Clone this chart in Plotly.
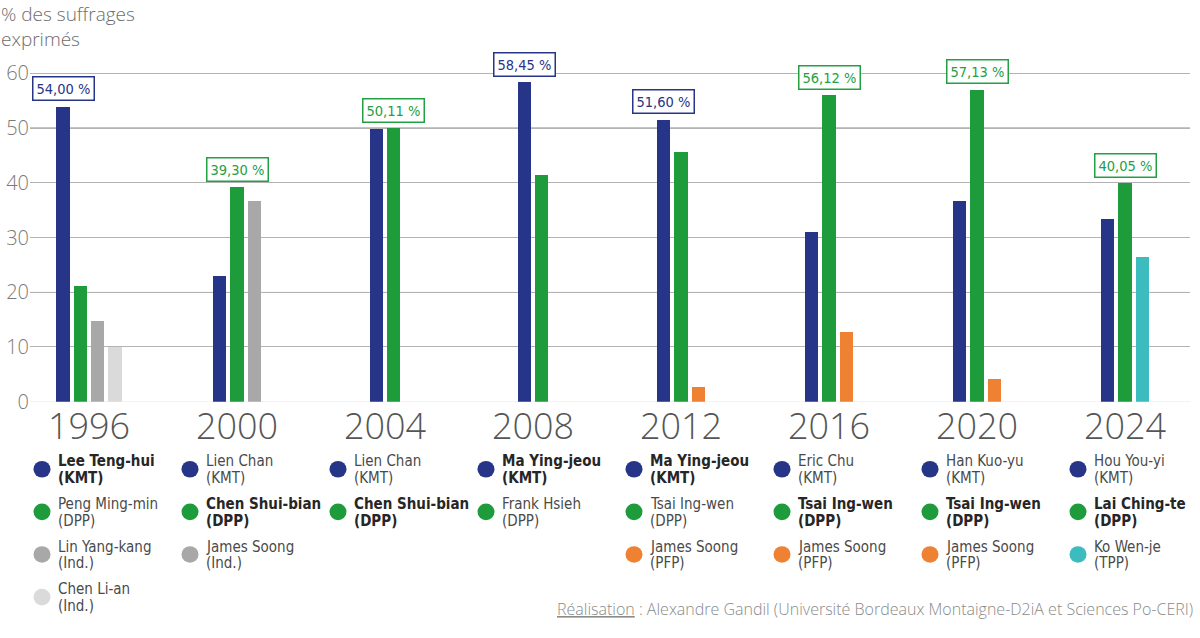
import plotly.graph_objects as go

# ---------------- data ----------------
years = ["1996", "2000", "2004", "2008", "2012", "2016", "2020", "2024"]

kmt_candidates = ["Lee Teng-hui", "Lien Chan", "Lien Chan", "Ma Ying-jeou",
                  "Ma Ying-jeou", "Eric Chu", "Han Kuo-yu", "Hou You-yi"]
kmt_share = [54.00, 23.10, 49.89, 58.45, 51.60, 31.04, 36.70, 33.49]

dpp_candidates = ["Peng Ming-min", "Chen Shui-bian", "Chen Shui-bian", "Frank Hsieh",
                  "Tsai Ing-wen", "Tsai Ing-wen", "Tsai Ing-wen", "Lai Ching-te"]
dpp_share = [21.13, 39.30, 50.11, 41.55, 45.63, 56.12, 57.13, 40.05]

third_candidates = ["Lin Yang-kang", "James Soong", None, None,
                    "James Soong", "James Soong", "James Soong", "Ko Wen-je"]
third_parties = ["Ind.", "Ind.", None, None, "PFP", "PFP", "PFP", "TPP"]
third_share = [14.90, 36.84, None, None, 2.77, 12.84, 4.26, 26.46]

fourth_candidates = ["Chen Li-an", None, None, None, None, None, None, None]
fourth_parties = ["Ind.", None, None, None, None, None, None, None]
fourth_share = [9.98, None, None, None, None, None, None, None]

winners = ["KMT", "DPP", "DPP", "KMT", "KMT", "DPP", "DPP", "DPP"]

# ---------------- styles ----------------
W, H = 1200, 638
BLUE = "#263587"
GREEN = "#1e9c3c"
GREY = "#a8a8a8"
LIGHTGREY = "#dadada"
party_colors = {"KMT": BLUE, "DPP": GREEN, "Ind.": GREY, "PFP": "#ef8133", "TPP": "#3dbcbf"}
NARROW = "DejaVu Sans Condensed, Liberation Sans Narrow, DejaVu Sans, sans-serif"
LIGHT = "Open Sans"


def px(x):
    return x / W


def py(y):
    return 1 - y / H


n_years = len(years)
slots = [
    (kmt_candidates, ["KMT"] * n_years, kmt_share, None),
    (dpp_candidates, ["DPP"] * n_years, dpp_share, None),
    (third_candidates, third_parties, third_share, None),
    (fourth_candidates, fourth_parties, fourth_share, LIGHTGREY),
]
counts = [sum(1 for s in slots if s[2][i] is not None) for i in range(n_years)]

cat_px = 148.0           # pixels per category
slot_w = 17.3 / cat_px   # slot width in category units
bar_w = 13.5 / cat_px

fig = go.Figure()
bar_x = {}
for j, (names, parties, shares, override) in enumerate(slots):
    xs, ys, cols = [], [], []
    for i in range(n_years):
        if shares[i] is None:
            continue
        x = i + (j - (counts[i] - 1) / 2) * slot_w
        bar_x[(i, j)] = x
        xs.append(x)
        ys.append(shares[i])
        cols.append(override if override else party_colors[parties[i]])
    fig.add_trace(go.Bar(x=xs, y=ys, width=bar_w, marker=dict(color=cols, line=dict(width=0)),
                         showlegend=False, hoverinfo="y"))

annotations = []
# winner boxes
for i in range(n_years):
    j = 0 if winners[i] == "KMT" else 1
    v = slots[j][2][i]
    col = BLUE if j == 0 else "#23a043"
    annotations.append(dict(
        x=bar_x[(i, j)], y=v, xref="x", yref="y", showarrow=False,
        text=f"{v:.2f} %".replace(".", ","), yanchor="bottom", yshift=5,
        font=dict(family=NARROW, size=14.5, color=col),
        bordercolor=col, borderwidth=1.5, borderpad=3, bgcolor="white"))

# legend (custom, below the axis)
shapes = []
for i in range(n_years):
    for j, (names, parties, shares, override) in enumerate(slots):
        if shares[i] is None:
            continue
        cx = 42 + cat_px * i
        cy = 479 + 43.5 * j
        col = override if override else party_colors[parties[i]]
        shapes.append(dict(type="circle", xref="paper", yref="paper",
                           x0=px(cx - 8.5), x1=px(cx + 8.5), y0=py(cy + 8.5), y1=py(cy - 8.5),
                           fillcolor=col, line=dict(width=0)))
        win = (j == 0 and winners[i] == "KMT") or (j == 1 and winners[i] == "DPP")
        t1 = names[i]
        t2 = f"({parties[i]})"
        if win:
            t1, t2 = f"<b>{t1}</b>", f"<b>{t2}</b>"
        tcol = "#262626" if win else "#4a4a4a"
        for k, t in enumerate((t1, t2)):
            annotations.append(dict(x=px(cx + 14), y=py(cy - 8 + 17 * k), xref="paper", yref="paper",
                                    text=t, showarrow=False, xanchor="left", yanchor="middle",
                                    font=dict(family=NARROW, size=15, color=tcol)))

# axis title
annotations.append(dict(x=0, y=1, xref="paper", yref="paper", text="% des suffrages<br>exprimés",
                        showarrow=False, xanchor="left", yanchor="top", align="left", borderpad=0,
                        font=dict(family=LIGHT, size=19, color="#6d6d6d", weight=300)))

# credit
annotations.append(dict(x=px(1195), y=py(622), xref="paper", yref="paper",
                        text="<u>Réalisation</u> : Alexandre Gandil (Université Bordeaux Montaigne-D2iA et Sciences Po-CERI)",
                        showarrow=False, xanchor="right", yanchor="middle",
                        font=dict(family=LIGHT, size=16, color="#8a8a8a", weight=300)))

# special gridlines
for val, col, wdt in [(0, "#ececec", 1), (20, "#dedede", 1), (50, "#8c8c8c", 1.5)]:
    shapes.append(dict(type="line", xref="x domain", yref="y", x0=0, x1=1, y0=val, y1=val,
                       line=dict(color=col, width=wdt), layer="below"))

# axes geometry
x_left_px, x_right_px, first_center_px = 30, 1190, 89
y0_px, px_per_unit, y_top = 410, 335 / 60, 64

fig.update_layout(
    width=W, height=H, margin=dict(l=0, r=0, t=0, b=0),
    paper_bgcolor="white", plot_bgcolor="rgba(0,0,0,0)",
    barmode="overlay", bargap=0,
    annotations=annotations, shapes=shapes,
    xaxis=dict(domain=[px(x_left_px), px(x_right_px)],
               range=[(x_left_px - first_center_px) / cat_px, (x_right_px - first_center_px) / cat_px],
               tickmode="array", tickvals=list(range(n_years)), ticktext=years,
               showgrid=False, zeroline=False, showline=False, ticks="",
               tickfont=dict(family=LIGHT, size=36, color="#555555", weight=300)),
    yaxis=dict(domain=[1 - y0_px / H, 1 - y0_px / H + y_top * px_per_unit / H],
               range=[0, y_top], tickmode="array", tickvals=[0, 10, 20, 30, 40, 50, 60],
               ticksuffix=" ",
               showgrid=True, gridcolor="#b3b3b3", gridwidth=1, zeroline=False,
               showline=False, ticks="",
               tickfont=dict(family=LIGHT, size=20, color="#7a7a7a", weight=300)),
)

fig.write_html(
    "out.html",
    config={"displayModeBar": False},
    post_script=(
        "var s=document.documentElement.style;s.margin='0';s.padding='0';s.overflow='hidden';"
        "var b=document.body.style;b.margin='0';b.padding='0';b.overflow='hidden';"
    ),
)
